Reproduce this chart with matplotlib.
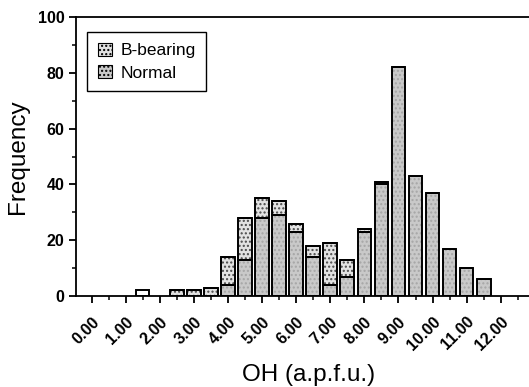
import matplotlib as mpl

mpl.use("agg")
import matplotlib.pyplot as plt
import numpy as np
from matplotlib.patches import Patch
from matplotlib.ticker import MultipleLocator

# bin centres (OH, a.p.f.u.) and counts
oh = [1.5, 2.5, 3.0, 3.5, 4.0, 4.5, 5.0, 5.5, 6.0, 6.5, 7.0, 7.5,
      8.0, 8.5, 9.0, 9.5, 10.0, 10.5, 11.0, 11.5]
normal = [0, 0, 0, 0, 4, 13, 28, 29, 23, 14, 4, 7,
          23, 40, 82, 43, 37, 17, 10, 6]
b_bearing = [0, 2, 2, 3, 10, 15, 7, 5, 3, 4, 15, 6,
             1, 1, 0, 0, 0, 0, 0, 0]
unassigned = [2, 0, 0, 0, 0, 0, 0, 0, 0, 0, 0, 0,
              0, 0, 0, 0, 0, 0, 0, 0]
xticks = [0, 1, 2, 3, 4, 5, 6, 7, 8, 9, 10, 11, 12]
xticklabels = ["0.00", "1.00", "2.00", "3.00", "4.00", "5.00", "6.00",
               "7.00", "8.00", "9.00", "10.00", "11.00", "12.00"]

plt.rcParams["font.family"] = ["Liberation Sans", "DejaVu Sans"]

fig = plt.figure(figsize=(5.29, 3.87), dpi=100, facecolor="w")
ax = fig.add_axes([0.144, 0.235, 0.88, 0.721])

w = 0.4
x = np.array(oh)
n = np.array(normal)
b = np.array(b_bearing)
u = np.array(unassigned)

norm_style = dict(facecolor="#c9c9c9", edgecolor="#a6a6a6", hatch="....", lw=0)
bb_style = dict(facecolor="#e2e2e2", edgecolor="#4a4a4a", hatch="....", lw=0)

ax.bar(x, n, w, **norm_style)
ax.bar(x, b, w, bottom=n, **bb_style)
ax.bar(x, u, w, bottom=n + b, facecolor="white", lw=0)
# outlines of the segments
ax.bar(x, n, w, facecolor="none", edgecolor="black", lw=1.4)
ax.bar(x, b, w, bottom=n, facecolor="none", edgecolor="black", lw=1.4)
ax.bar(x, u, w, bottom=n + b, facecolor="none", edgecolor="black", lw=1.4)

ax.set_xlim(-0.45, 13.2)
ax.set_ylim(0, 100)
ax.set_xticks(xticks)
ax.set_xticklabels(xticklabels, rotation=45, ha="right", rotation_mode="anchor",
                   fontsize=11.5, fontweight="bold")
for lab in ax.get_yticklabels():
    lab.set_fontweight("bold")
ax.xaxis.set_minor_locator(MultipleLocator(0.5))
ax.yaxis.set_major_locator(MultipleLocator(20))
ax.yaxis.set_minor_locator(MultipleLocator(10))
ax.tick_params(axis="both", which="major", direction="out", length=5, width=1.3,
               labelsize=11.5)
ax.tick_params(axis="x", which="major", pad=8)
ax.tick_params(axis="both", which="minor", direction="out", length=3, width=1.1)
plt.setp(ax.get_yticklabels(), fontweight="bold")
plt.setp(ax.get_xticklabels(), fontweight="bold")
for side in ["left", "bottom", "top"]:
    ax.spines[side].set_linewidth(1.3)
ax.spines["right"].set_visible(False)

ax.set_xlabel("OH (a.p.f.u.)", fontsize=17.5, labelpad=8)
ax.set_ylabel("Frequency", fontsize=17.5, labelpad=6)

handles = [
    Patch(label="B-bearing", **{**bb_style, "edgecolor": "black", "lw": 0.8}),
    Patch(label="Normal", **{**norm_style, "edgecolor": "black", "lw": 0.8}),
]
leg = ax.legend(handles=handles, loc="upper left", bbox_to_anchor=(0.024, 0.946),
                fontsize=12.5, fancybox=False, framealpha=1, edgecolor="black",
                handlelength=0.8, handleheight=0.8, handletextpad=0.5,
                borderpad=0.6, labelspacing=0.4, borderaxespad=0)
leg.get_frame().set_linewidth(1.0)

fig.savefig("out.png", dpi=100)
